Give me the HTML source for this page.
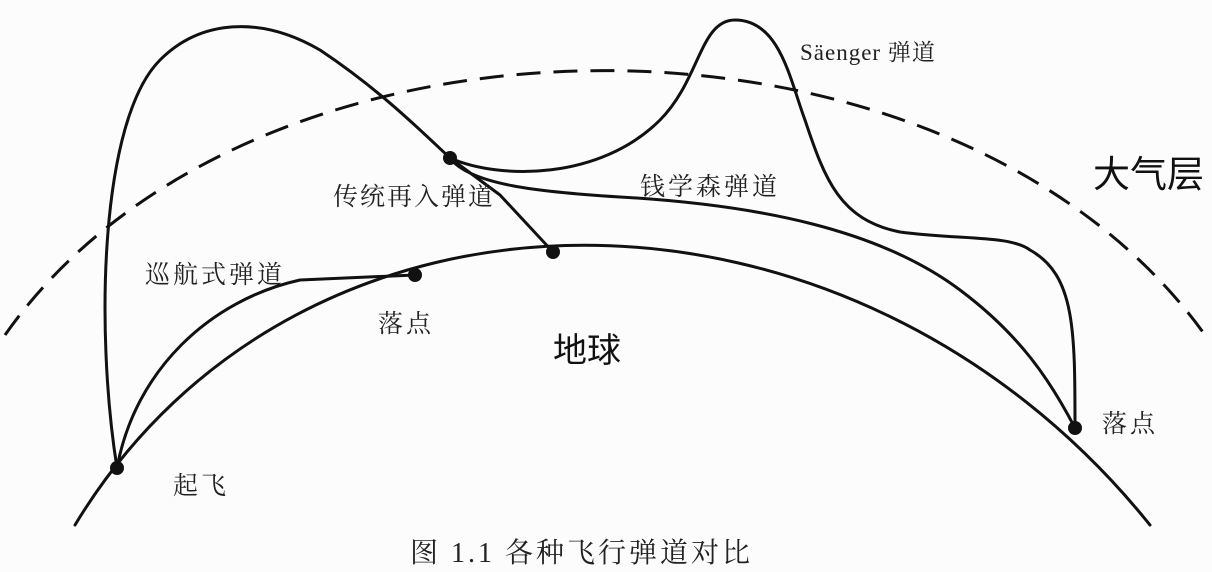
<!DOCTYPE html>
<html><head><meta charset="utf-8"><style>
html,body{margin:0;padding:0;background:#fcfcfc;}
svg{display:block}
.s{font-family:"Liberation Serif","Noto Serif CJK SC",serif;fill:#222}
.g{font-family:"Liberation Sans","Noto Sans CJK SC",sans-serif;fill:#111}
</style></head><body>
<svg width="1212" height="572" viewBox="0 0 1212 572" xmlns="http://www.w3.org/2000/svg">
<rect width="1212" height="572" fill="#fcfcfc"/>
<g fill="none" stroke="#111" stroke-width="3" stroke-linecap="round" stroke-linejoin="round">
<path d="M75,525 C300,152 850,152 1150,525"/>
<path d="M5,335 C250,-15 950,-20 1205,335" stroke-dasharray="24 13" stroke-linecap="butt"/>
<path d="M117,468 C95,330 100,120 160,60 C200,20 260,15 320,50 C380,90 420,130 450,158 L500,195 L553,252"/>
<path d="M117,468 C135,370 210,300 300,280 L415,275"/>
<path d="M450,158 C470,185 540,192 620,197 C760,205 880,230 960,290 C1020,335 1050,380 1075,428"/>
<path d="M450,158 C500,180 600,180 660,120 C700,80 700,20 735,20 C780,20 790,80 805,120 C825,180 840,220 900,232 C960,240 1010,235 1030,250 C1075,275 1075,330 1075,428"/>
</g>
<g fill="#111">
<circle cx="117" cy="468" r="7"/><circle cx="415" cy="275" r="7"/><circle cx="553" cy="252" r="7"/><circle cx="450" cy="158" r="7"/><circle cx="1075" cy="428" r="7"/>
</g>
<text class="s" x="800" y="60" font-size="23" letter-spacing="1">Säenger 弹道</text>
<text class="g" x="1093" y="187" font-size="37">大气层</text>
<text class="s" x="333" y="205" font-size="25" letter-spacing="2">传统再入弹道</text>
<text class="s" x="640" y="195" font-size="25" letter-spacing="3">钱学森弹道</text>
<text class="s" x="145" y="283" font-size="25" letter-spacing="3">巡航式弹道</text>
<text class="s" x="378" y="332" font-size="25" letter-spacing="3">落点</text>
<text class="g" x="553" y="362" font-size="34">地球</text>
<text class="s" x="1102" y="432" font-size="25" letter-spacing="3">落点</text>
<text class="s" x="173" y="494" font-size="25" letter-spacing="3">起飞</text>
<text class="s" x="410" y="562" font-size="28" letter-spacing="3">图 1.1 各种飞行弹道对比</text>
</svg>
</body></html>
